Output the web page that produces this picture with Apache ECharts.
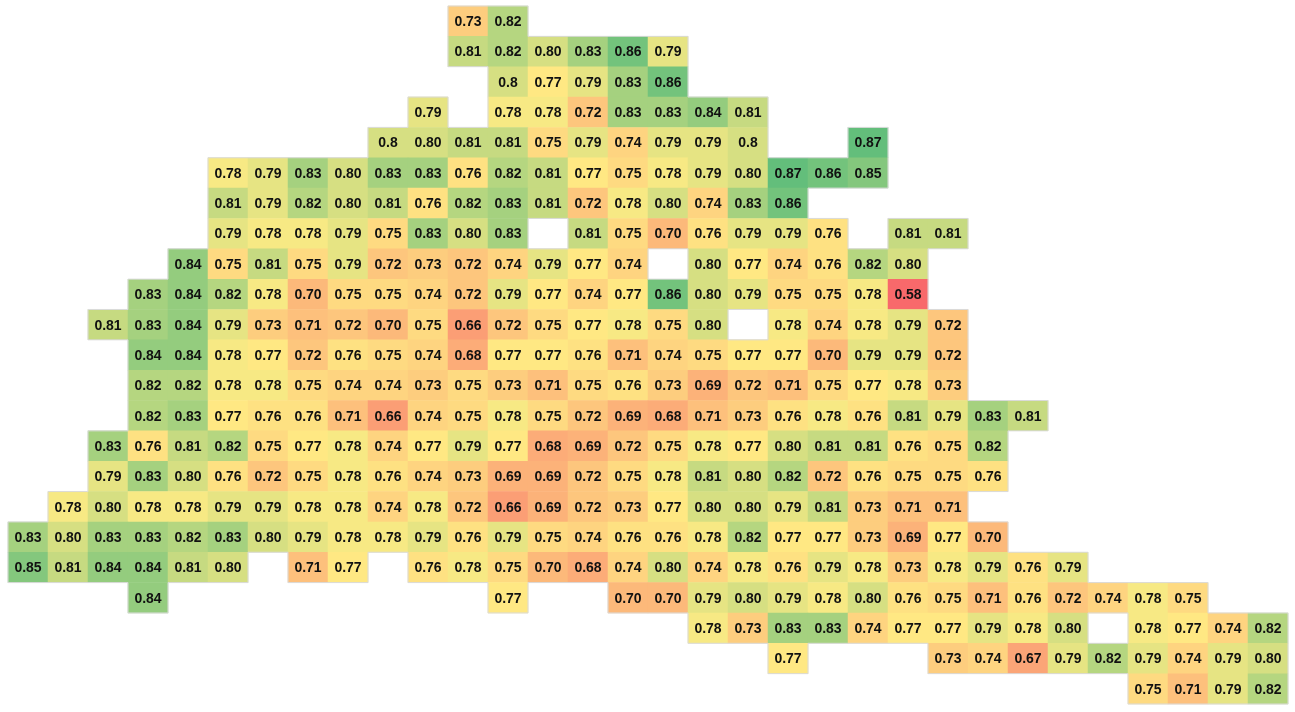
<!DOCTYPE html>
<html>
<head>
<meta charset="utf-8">
<title>Heatmap</title>
<style>
html, body { margin: 0; padding: 0; background: #fff; }
#main { width: 1295px; height: 712px; }
</style>
<script src="https://cdn.jsdelivr.net/npm/echarts@6/dist/echarts.min.js"></script>
</head>
<body>
<div id="main"></div>
<script>
var _ = null;

// values are kept as text because the sheet shows some as 0.8 and others as 0.80
var row01 = [_,_,_,_,_,_,_,_,_,_,_,'0.73','0.82'];
var row02 = [_,_,_,_,_,_,_,_,_,_,_,'0.81','0.82','0.80','0.83','0.86','0.79'];
var row03 = [_,_,_,_,_,_,_,_,_,_,_,_,'0.8','0.77','0.79','0.83','0.86'];
var row04 = [_,_,_,_,_,_,_,_,_,_,'0.79',_,'0.78','0.78','0.72','0.83','0.83','0.84','0.81'];
var row05 = [_,_,_,_,_,_,_,_,_,'0.8','0.80','0.81','0.81','0.75','0.79','0.74','0.79','0.79','0.8',_,_,'0.87'];
var row06 = [_,_,_,_,_,'0.78','0.79','0.83','0.80','0.83','0.83','0.76','0.82','0.81','0.77','0.75','0.78','0.79','0.80','0.87','0.86','0.85'];
var row07 = [_,_,_,_,_,'0.81','0.79','0.82','0.80','0.81','0.76','0.82','0.83','0.81','0.72','0.78','0.80','0.74','0.83','0.86'];
var row08 = [_,_,_,_,_,'0.79','0.78','0.78','0.79','0.75','0.83','0.80','0.83',_,'0.81','0.75','0.70','0.76','0.79','0.79','0.76',_,'0.81','0.81'];
var row09 = [_,_,_,_,'0.84','0.75','0.81','0.75','0.79','0.72','0.73','0.72','0.74','0.79','0.77','0.74',_,'0.80','0.77','0.74','0.76','0.82','0.80'];
var row10 = [_,_,_,'0.83','0.84','0.82','0.78','0.70','0.75','0.75','0.74','0.72','0.79','0.77','0.74','0.77','0.86','0.80','0.79','0.75','0.75','0.78','0.58'];
var row11 = [_,_,'0.81','0.83','0.84','0.79','0.73','0.71','0.72','0.70','0.75','0.66','0.72','0.75','0.77','0.78','0.75','0.80',_,'0.78','0.74','0.78','0.79','0.72'];
var row12 = [_,_,_,'0.84','0.84','0.78','0.77','0.72','0.76','0.75','0.74','0.68','0.77','0.77','0.76','0.71','0.74','0.75','0.77','0.77','0.70','0.79','0.79','0.72'];
var row13 = [_,_,_,'0.82','0.82','0.78','0.78','0.75','0.74','0.74','0.73','0.75','0.73','0.71','0.75','0.76','0.73','0.69','0.72','0.71','0.75','0.77','0.78','0.73'];
var row14 = [_,_,_,'0.82','0.83','0.77','0.76','0.76','0.71','0.66','0.74','0.75','0.78','0.75','0.72','0.69','0.68','0.71','0.73','0.76','0.78','0.76','0.81','0.79','0.83','0.81'];
var row15 = [_,_,'0.83','0.76','0.81','0.82','0.75','0.77','0.78','0.74','0.77','0.79','0.77','0.68','0.69','0.72','0.75','0.78','0.77','0.80','0.81','0.81','0.76','0.75','0.82'];
var row16 = [_,_,'0.79','0.83','0.80','0.76','0.72','0.75','0.78','0.76','0.74','0.73','0.69','0.69','0.72','0.75','0.78','0.81','0.80','0.82','0.72','0.76','0.75','0.75','0.76'];
var row17 = [_,'0.78','0.80','0.78','0.78','0.79','0.79','0.78','0.78','0.74','0.78','0.72','0.66','0.69','0.72','0.73','0.77','0.80','0.80','0.79','0.81','0.73','0.71','0.71'];
var row18 = ['0.83','0.80','0.83','0.83','0.82','0.83','0.80','0.79','0.78','0.78','0.79','0.76','0.79','0.75','0.74','0.76','0.76','0.78','0.82','0.77','0.77','0.73','0.69','0.77','0.70'];
var row19 = ['0.85','0.81','0.84','0.84','0.81','0.80',_,'0.71','0.77',_,'0.76','0.78','0.75','0.70','0.68','0.74','0.80','0.74','0.78','0.76','0.79','0.78','0.73','0.78','0.79','0.76','0.79'];
var row20 = [_,_,_,'0.84',_,_,_,_,_,_,_,_,'0.77',_,_,'0.70','0.70','0.79','0.80','0.79','0.78','0.80','0.76','0.75','0.71','0.76','0.72','0.74','0.78','0.75'];
var row21 = [_,_,_,_,_,_,_,_,_,_,_,_,_,_,_,_,_,'0.78','0.73','0.83','0.83','0.74','0.77','0.77','0.79','0.78','0.80',_,'0.78','0.77','0.74','0.82'];
var row22 = [_,_,_,_,_,_,_,_,_,_,_,_,_,_,_,_,_,_,_,'0.77',_,_,_,'0.73','0.74','0.67','0.79','0.82','0.79','0.74','0.79','0.80'];
var row23 = [_,_,_,_,_,_,_,_,_,_,_,_,_,_,_,_,_,_,_,_,_,_,_,_,_,_,_,_,'0.75','0.71','0.79','0.82'];

var rows = [row01,row02,row03,row04,row05,row06,row07,row08,row09,row10,row11,row12,
            row13,row14,row15,row16,row17,row18,row19,row20,row21,row22,row23];
var columnCount = 32;

var xCategories = [];
for (var c = 0; c < columnCount; c++) { xCategories.push(String(c)); }
var yCategories = rows.map(function (r, i) { return String(i); });

// excel style 3 colour scale
var LOW = 0.58, MID = 0.775, HIGH = 0.87;
var RED = [248, 105, 107], YELLOW = [255, 235, 132], GREEN = [99, 190, 123];

function scaleColor(v) {
    var from = v <= MID ? RED : YELLOW;
    var to = v <= MID ? YELLOW : GREEN;
    var t = v <= MID ? (v - LOW) / (MID - LOW) : (v - MID) / (HIGH - MID);
    var rgb = [0, 1, 2].map(function (k) { return Math.round(from[k] + (to[k] - from[k]) * t); });
    return 'rgb(' + rgb.join(',') + ')';
}

function hasCell(x, y) {
    return !!(rows[y] && rows[y][x]);
}

var cells = [];
var seen = {};
var pieces = [];
rows.forEach(function (r, y) {
    r.forEach(function (text, x) {
        if (!text) { return; }
        var v = parseFloat(text);
        cells.push([x, y, v, text]);
        if (!seen[v]) {
            seen[v] = true;
            pieces.push({ value: v, color: scaleColor(v) });
        }
    });
});

var chart = echarts.init(document.getElementById('main'));
chart.setOption({
    backgroundColor: '#ffffff',
    animation: false,
    grid: { left: 8, right: 7, top: 6, bottom: 8 },
    xAxis: { type: 'category', data: xCategories, show: false },
    yAxis: { type: 'category', data: yCategories, inverse: true, show: false },
    visualMap: { type: 'piecewise', show: false, dimension: 2, seriesIndex: 0, pieces: pieces },
    series: [
        {
            type: 'heatmap',
            data: cells,
            silent: true,
            itemStyle: { borderWidth: 0 },
            emphasis: { disabled: true },
            label: {
                show: true,
                color: '#111111',
                fontFamily: '"Liberation Sans", Arial, sans-serif',
                fontWeight: 'bold',
                fontSize: 14,
                offset: [0, 1],
                formatter: function (p) { return p.value[3]; }
            }
        },
        {
            // thin grey edge where a cell meets an empty one
            type: 'custom',
            silent: true,
            data: cells,
            encode: { x: 0, y: 1 },
            renderItem: function (params, api) {
                var x = api.value(0), y = api.value(1);
                var center = api.coord([x, y]);
                var size = api.size([1, 1]);
                var l = center[0] - size[0] / 2, r = center[0] + size[0] / 2;
                var t = center[1] - size[1] / 2, b = center[1] + size[1] / 2;
                var kids = [];
                function edge(x1, y1, x2, y2) {
                    kids.push({
                        type: 'line',
                        shape: { x1: x1, y1: y1, x2: x2, y2: y2 },
                        style: { stroke: '#dadada', lineWidth: 1 }
                    });
                }
                if (!hasCell(x, y - 1)) { edge(l, t, r, t); }
                if (!hasCell(x, y + 1)) { edge(l, b, r, b); }
                if (!hasCell(x - 1, y)) { edge(l, t, l, b); }
                if (!hasCell(x + 1, y)) { edge(r, t, r, b); }
                return { type: 'group', children: kids };
            }
        }
    ]
});
</script>
</body>
</html>
